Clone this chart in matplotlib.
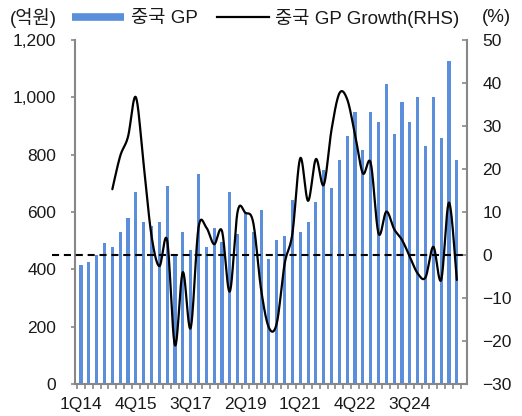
import numpy as np
import matplotlib
matplotlib.use("Agg")
import matplotlib.pyplot as plt
from matplotlib.lines import Line2D

plt.rcParams['font.family'] = ['Liberation Sans', 'Noto Sans CJK KR', 'DejaVu Sans']
plt.rcParams['axes.unicode_minus'] = True

# ---- data ----
gp = [414, 427, 450, 491, 477, 531, 580, 671, 566, 552, 566, 691, 448, 531, 469,
      733, 477, 545, 496, 671, 525, 601, 531, 607, 435, 503, 518, 642, 531, 566,
      636, 746, 683, 781, 865, 949, 816, 949, 914, 1046, 871, 984, 914, 1002, 830,
      1002, 857, 1128, 781]
growth_start = 4
growth = [15.3, 23.0, 27.5, 36.7, 21.0, 4.5, -2.6, 3.4, -21.0, -4.0, -17.0, 6.3,
          6.4, 2.5, 5.6, -8.5, 10.1, 9.8, 7.5, -8.0, -16.9, -15.9, -2.1, 5.0,
          22.5, 12.6, 22.3, 16.3, 29.2, 37.6, 36.2, 28.0, 19.0, 21.4, 5.0, 10.1,
          6.0, 3.5, -0.4, -4.3, -5.2, 1.9, -5.8, 12.2, -5.8]
xtick_labels = ["1Q14", "4Q15", "3Q17", "2Q19", "1Q21", "4Q22", "3Q24"]
left_ticks = [0, 200, 400, 600, 800, 1000, 1200]
right_ticks = [-30, -20, -10, 0, 10, 20, 30, 40, 50]

BLUE = '#5B8FDC'
GRAY = '#878787'
TXT = '#1a1a1a'

def smooth(xs, ys, n=24):
    pts = np.column_stack([xs, ys]).astype(float)
    out = []
    m = len(pts)
    for i in range(m - 1):
        p0 = pts[max(i - 1, 0)]
        p1 = pts[i]
        p2 = pts[i + 1]
        p3 = pts[min(i + 2, m - 1)]
        c1 = p1 + (p2 - p0) / 6.0
        c2 = p2 - (p3 - p1) / 6.0
        t = np.linspace(0, 1, n)[:, None]
        seg = ((1 - t) ** 3) * p1 + 3 * ((1 - t) ** 2) * t * c1 + 3 * (1 - t) * t ** 2 * c2 + t ** 3 * p2
        out.append(seg if i == 0 else seg[1:])
    arr = np.vstack(out)
    return arr[:, 0], arr[:, 1]

fig = plt.figure(figsize=(5.22, 4.16), dpi=100)
ax = fig.add_axes([75/522, (416-384)/416, (467-75)/522, (384-40)/416])
ax2 = ax.twinx()

x = np.arange(len(gp))
ax.bar(x, gp, width=0.4, color=BLUE, zorder=2)
ax.set_xlim(-0.77, 49.3)
ax.set_ylim(0, 1200)
ax.set_yticks(left_ticks)
ax.set_yticklabels([f"{v:,}" for v in left_ticks])

xg = np.arange(growth_start, growth_start + len(growth))
sx, sy = smooth(xg, growth)
ax2.plot(sx, sy, color='black', lw=1.6, solid_capstyle='round', zorder=3)
ax2.set_ylim(-30, 50)
ax2.set_yticks(right_ticks)
ax2.set_yticklabels([("\u2212" + str(-v)) if v < 0 else str(v) for v in right_ticks])
ax2.plot([-3.7, 49.05], [0, 0], color='black', lw=1.5, dashes=(3.4, 2.3),
         clip_on=False, zorder=4)

# x axis ticks
ax.set_xticks(x[::7])
ax.set_xticklabels(xtick_labels)
ax.set_xticks(np.arange(-0.5, 49.0, 1.0), minor=True)
ax.tick_params(axis='x', which='major', length=0, pad=9, labelsize=12.5, colors=TXT)
ax.tick_params(axis='x', which='minor', length=3.5, width=1.2, color=GRAY, direction='out')
ax.tick_params(axis='y', length=3, width=1.2, color=GRAY, direction='out', pad=10.5,
               labelsize=12.5, labelcolor=TXT)
ax2.tick_params(axis='y', length=3.5, width=1.2, color=GRAY, direction='in', pad=11,
                labelsize=12.5, labelcolor=TXT)

for a in (ax, ax2):
    a.spines['top'].set_visible(False)
    for s in a.spines.values():
        s.set_color(GRAY)
        s.set_linewidth(1.5)
ax2.spines['left'].set_visible(False)
ax2.spines['bottom'].set_visible(False)
ax.spines['right'].set_visible(False)

# legend / unit labels
fig.text(10/522, 1 - 18/416, "(억원)", fontsize=13.5, va='center', ha='left', color=TXT)
fig.text(511/522, 1 - 18/416, "(%)", fontsize=13.5, va='center', ha='right', color=TXT)
handles = [Line2D([], [], color=BLUE, lw=5.5, solid_capstyle='butt'),
           Line2D([], [], color='black', lw=1.6)]
fig.legend(handles, ["중국 GP", "중국 GP Growth(RHS)"], ncol=2, loc='center',
           bbox_to_anchor=(266/522, 1 - 18/416), frameon=False, fontsize=13.5,
           handlelength=2.75, handletextpad=0.35, columnspacing=1.05, borderpad=0,
           labelcolor=TXT)

fig.savefig("out.png", dpi=100)
